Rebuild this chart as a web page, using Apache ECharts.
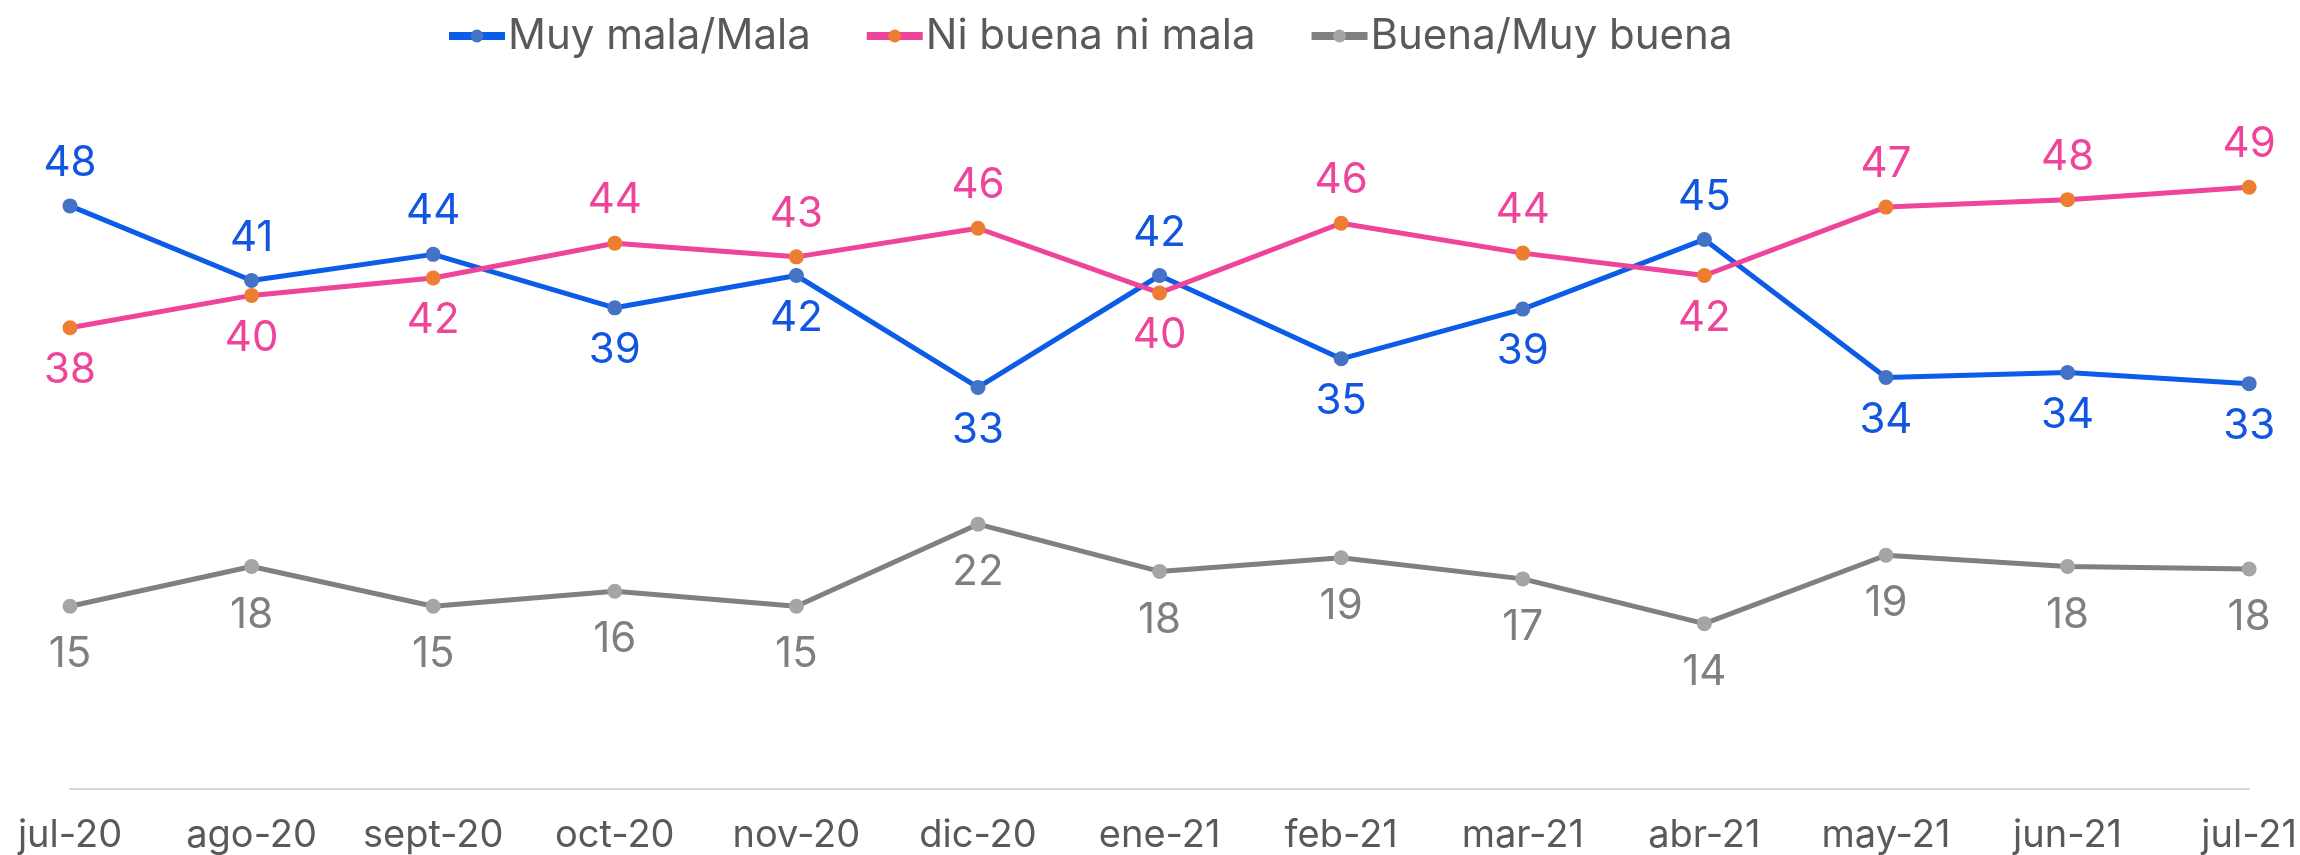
<!DOCTYPE html>
<html>
<head>
<meta charset="utf-8">
<script src="https://cdn.jsdelivr.net/npm/echarts@6/dist/echarts.min.js"></script>
<style>html,body{margin:0;padding:0;background:#fff}#c{width:2300px;height:855px}</style>
</head>
<body>
<div id="c"></div>
<script>
const categories = ['jul-20','ago-20','sept-20','oct-20','nov-20','dic-20','ene-21','feb-21','mar-21','abr-21','may-21','jun-21','jul-21'];
const muyMala = [47.4,41.4,43.5,39.2,41.8,32.8,41.8,35.1,39.1,44.7,33.6,34.0,33.1];
const niBuena = [37.6,40.2,41.6,44.4,43.3,45.6,40.4,46.0,43.6,41.8,47.3,47.9,48.9];
const buena = [15.2,18.4,15.2,16.4,15.2,21.8,18.0,19.1,17.4,13.8,19.3,18.4,18.2];
const muyMalaLabels = ['48','41','44','39','42','33','42','35','39','45','34','34','33'];
const niBuenaLabels = ['38','40','42','44','43','46','40','46','44','42','47','48','49'];
const buenaLabels = ['15','18','15','16','15','22','18','19','17','14','19','18','18'];
const muyMalaPos = ['top','top','top','bottom','bottom','bottom','top','bottom','bottom','top','bottom','bottom','bottom'];
const niBuenaPos = ['bottom','bottom','bottom','top','top','top','bottom','top','top','bottom','top','top','top'];
const buenaPos = categories.map(() => 'bottom');

const FONT = 'Inter';
function build(values, labels, pos, dist) {
  return values.map((v, i) => ({
    value: v,
    label: { position: pos[i], formatter: labels[i], distance: dist }
  }));
}
const chart = echarts.init(document.getElementById('c'), null, {renderer: 'canvas'});
chart.setOption({
  animation: false,
  backgroundColor: '#ffffff',
  textStyle: { fontFamily: FONT },
  legend: {
    top: 10,
    left: 440,
    itemWidth: 56,
    itemHeight: 16,
    itemGap: 52,
    textStyle: { fontSize: 42, color: '#595959', fontFamily: FONT, padding: [0,0,0,-2] },
    lineStyle: { width: 8 },
    data: ['Muy mala/Mala','Ni buena ni mala','Buena/Muy buena']
  },
  grid: { left: 70, right: 35, top: 43, bottom: 64, containLabel: false },
  xAxis: {
    type: 'category',
    boundaryGap: false,
    data: categories,
    axisLine: { onZero: false, lineStyle: { color: '#D9D9D9', width: 2 } },
    axisTick: { show: false },
    axisLabel: { fontSize: 38, color: '#595959', margin: 28, fontFamily: FONT, interval: 0, alignMaxLabel: 'center', alignMinLabel: 'center' }
  },
  yAxis: { type: 'value', min: 0.5, max: 60.5, show: false, splitLine: { show: false } },
  series: [
    {
      name: 'Muy mala/Mala', type: 'line',
      data: build(muyMala, muyMalaLabels, muyMalaPos, 14),
      symbol: 'circle', symbolSize: 15,
      lineStyle: { color: '#0B5CE6', width: 5 },
      itemStyle: { color: '#4472C4' },
      label: { show: true, fontSize: 42, color: '#1155E0', fontFamily: FONT }
    },
    {
      name: 'Ni buena ni mala', type: 'line',
      data: build(niBuena, niBuenaLabels, niBuenaPos, 14),
      symbol: 'circle', symbolSize: 15,
      lineStyle: { color: '#EE4499', width: 5 },
      itemStyle: { color: '#ED7D31' },
      label: { show: true, fontSize: 42, color: '#EE4499', fontFamily: FONT }
    },
    {
      name: 'Buena/Muy buena', type: 'line',
      data: build(buena, buenaLabels, buenaPos, 20),
      symbol: 'circle', symbolSize: 15,
      lineStyle: { color: '#808080', width: 5 },
      itemStyle: { color: '#A5A5A5' },
      label: { show: true, fontSize: 42, color: '#7F7F7F', fontFamily: FONT }
    }
  ]
});
</script>
</body>
</html>
